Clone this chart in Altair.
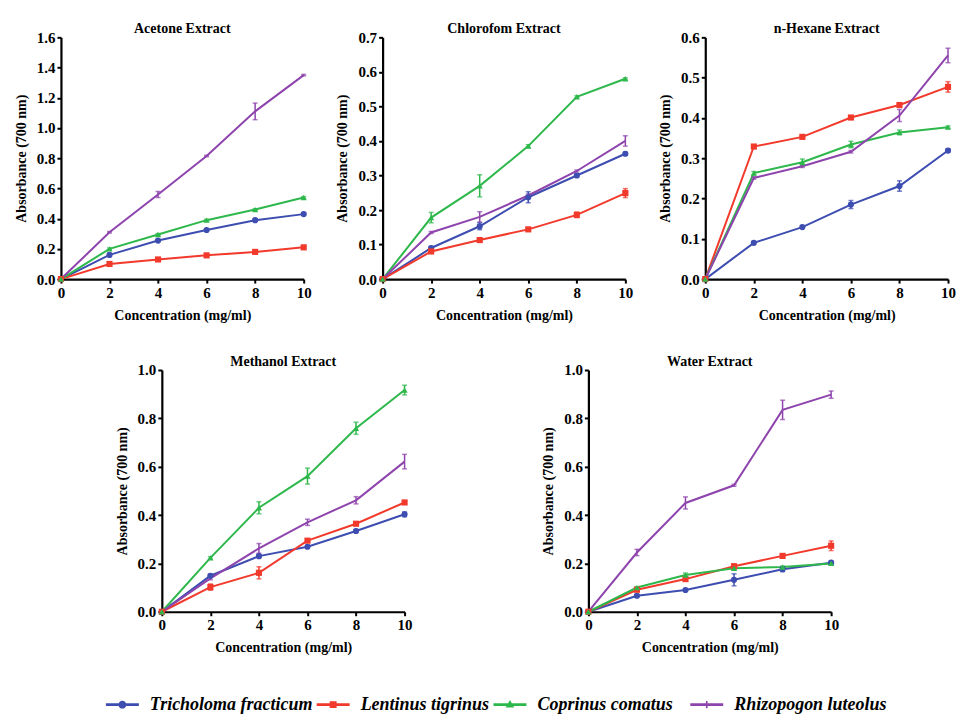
import altair as alt
import pandas as pd

conc = [0, 2, 4, 6, 8, 10]
names = ["Tricholoma fracticum", "Lentinus tigrinus", "Coprinus comatus", "Rhizopogon luteolus"]
colors = ["#3D4DB0", "#F23A2C", "#2EB84C", "#8E44AD"]
markers = ["circle", "square", "triangle-up", None]

# ---- Acetone ----
acetone_tf = [0, 0.16, 0.255, 0.325, 0.39, 0.43]
acetone_lt = [0, 0.10, 0.13, 0.157, 0.18, 0.21]
acetone_cc = [0, 0.20, 0.295, 0.39, 0.46, 0.54]
acetone_rl = [0, 0.31, 0.56, 0.815, 1.11, 1.35]
acetone_tf_err = [0, 0.006, 0.006, 0.006, 0.006, 0.008]
acetone_lt_err = [0, 0.006, 0.006, 0.006, 0.006, 0.008]
acetone_cc_err = [0, 0.006, 0.006, 0.006, 0.006, 0.006]
acetone_rl_err = [0, 0.005, 0.02, 0.005, 0.055, 0.005]

# ---- Chloroform ----
chloro_tf = [0, 0.09, 0.153, 0.237, 0.30, 0.363]
chloro_lt = [0, 0.08, 0.113, 0.144, 0.186, 0.249]
chloro_cc = [0, 0.178, 0.27, 0.385, 0.528, 0.58]
chloro_rl = [0, 0.135, 0.18, 0.242, 0.313, 0.40]
chloro_tf_err = [0, 0.004, 0.01, 0.016, 0.004, 0.004]
chloro_lt_err = [0, 0.003, 0.003, 0.003, 0.008, 0.013]
chloro_cc_err = [0, 0.015, 0.032, 0.004, 0.003, 0.003]
chloro_rl_err = [0, 0.003, 0.015, 0.004, 0.003, 0.015]

# ---- n-Hexane ----
hexane_tf = [0, 0.09, 0.129, 0.185, 0.231, 0.319]
hexane_lt = [0, 0.329, 0.353, 0.401, 0.432, 0.477]
hexane_cc = [0, 0.263, 0.29, 0.334, 0.364, 0.377]
hexane_rl = [0, 0.251, 0.28, 0.316, 0.406, 0.555]
hexane_tf_err = [0, 0.003, 0.003, 0.01, 0.013, 0.004]
hexane_lt_err = [0, 0.004, 0.004, 0.004, 0.005, 0.013]
hexane_cc_err = [0, 0.004, 0.008, 0.008, 0.006, 0.003]
hexane_rl_err = [0, 0.003, 0.003, 0.003, 0.015, 0.018]

# ---- Methanol ----
methanol_tf = [0, 0.149, 0.23, 0.269, 0.334, 0.403]
methanol_lt = [0, 0.102, 0.161, 0.294, 0.364, 0.452]
methanol_cc = [0, 0.223, 0.43, 0.561, 0.759, 0.917]
methanol_rl = [0, 0.138, 0.262, 0.37, 0.461, 0.621]
methanol_tf_err = [0, 0.006, 0.006, 0.006, 0.006, 0.01]
methanol_lt_err = [0, 0.013, 0.025, 0.006, 0.006, 0.006]
methanol_cc_err = [0, 0.005, 0.025, 0.033, 0.025, 0.02]
methanol_rl_err = [0, 0.006, 0.02, 0.013, 0.015, 0.03]

# ---- Water ----
water_tf = [0, 0.066, 0.09, 0.132, 0.176, 0.203]
water_lt = [0, 0.091, 0.135, 0.188, 0.231, 0.273]
water_cc = [0, 0.10, 0.152, 0.18, 0.185, 0.20]
water_rl = [0, 0.245, 0.45, 0.523, 0.835, 0.898]
water_tf_err = [0, 0.005, 0.005, 0.025, 0.01, 0.005]
water_lt_err = [0, 0.005, 0.006, 0.01, 0.008, 0.02]
water_cc_err = [0, 0.004, 0.008, 0.006, 0.004, 0.004]
water_rl_err = [0, 0.013, 0.025, 0.004, 0.04, 0.015]

# Legend symbols: a line segment with the marker on it (unit box -1..1)
seg = "M-1,-0.08H1V0.08H-1Z "
legend_paths = [
    seg + "M0.24,0A0.24,0.24 0 1 1 -0.24,0A0.24,0.24 0 1 1 0.24,0Z",
    seg + "M-0.21,-0.21H0.21V0.21H-0.21Z",
    seg + "M0,-0.28L0.26,0.18H-0.26Z",
    seg + "M-0.05,-0.22H0.05V0.22H-0.05Z",
]
legend_item_widths = [211, 177, 197, 183]

FONT = "Liberation Serif"
W, H = 243, 242


def make_df(series_vals, series_errs):
    rows = []
    for nm, vals, errs in zip(names, series_vals, series_errs):
        for c, v, e in zip(conc, vals, errs):
            rows.append({"conc": c, "series": nm, "value": v, "lo": v - e, "hi": v + e})
    return pd.DataFrame(rows)


color_scale = alt.Scale(domain=names, range=colors)


def panel(title, series_vals, series_errs, ymax, ystep):
    df = make_df(series_vals, series_errs)
    xenc = alt.X("conc:Q", scale=alt.Scale(domain=[0, 10], nice=False),
                 axis=alt.Axis(values=[0, 2, 4, 6, 8, 10], format="d",
                               title="Concentration (mg/ml)"))
    yticks = [round(i * ystep, 2) for i in range(int(round(ymax / ystep)) + 1)]
    yscale = alt.Scale(domain=[0, ymax], nice=False)
    yaxis = alt.Axis(values=yticks, format=".1f", title="Absorbance (700 nm)")
    base = alt.Chart(df)
    lines = base.mark_line(strokeWidth=2).encode(
        x=xenc,
        y=alt.Y("value:Q", scale=yscale, axis=yaxis),
        color=alt.Color("series:N", scale=color_scale, legend=None),
    )
    errs = base.mark_errorbar(ticks=True, thickness=1.5).encode(
        x=xenc,
        y=alt.Y("lo:Q", scale=yscale, axis=yaxis),
        y2="hi:Q",
        color=alt.Color("series:N", scale=color_scale, legend=None),
    )
    layers = [lines, errs]
    for nm, col, mk in zip(names, colors, markers):
        if mk is None:
            continue
        layers.append(
            base.transform_filter(alt.datum.series == nm)
            .mark_point(shape=mk, filled=True, size=38, color=col, opacity=1)
            .encode(x=xenc, y=alt.Y("value:Q", scale=yscale, axis=yaxis))
        )
    return alt.layer(*layers).properties(
        width=W, height=H,
        title=alt.TitleParams(title, font=FONT, fontSize=14, fontWeight="bold",
                              color="black", offset=-6, anchor="middle"),
    )


p1 = panel("Acetone Extract",
           [acetone_tf, acetone_lt, acetone_cc, acetone_rl],
           [acetone_tf_err, acetone_lt_err, acetone_cc_err, acetone_rl_err], 1.6, 0.2)
p2 = panel("Chlorofom Extract",
           [chloro_tf, chloro_lt, chloro_cc, chloro_rl],
           [chloro_tf_err, chloro_lt_err, chloro_cc_err, chloro_rl_err], 0.7, 0.1)
p3 = panel("n-Hexane Extract",
           [hexane_tf, hexane_lt, hexane_cc, hexane_rl],
           [hexane_tf_err, hexane_lt_err, hexane_cc_err, hexane_rl_err], 0.6, 0.1)
p4 = panel("Methanol Extract",
           [methanol_tf, methanol_lt, methanol_cc, methanol_rl],
           [methanol_tf_err, methanol_lt_err, methanol_cc_err, methanol_rl_err], 1.0, 0.2)
p5 = panel("Water Extract",
           [water_tf, water_lt, water_cc, water_rl],
           [water_tf_err, water_lt_err, water_cc_err, water_rl_err], 1.0, 0.2)


def spacer(w, h=10):
    return alt.Chart(pd.DataFrame({"s": [0]})).mark_point(opacity=0).encode(
        x=alt.X("s:Q", axis=None), y=alt.Y("s:Q", axis=None)
    ).properties(width=w, height=h)


# ---- legend row: one item per series (line+marker symbol, italic label) ----
def legend_item(i):
    w = legend_item_widths[i]
    idf = pd.DataFrame({"series": [names[i]]})
    sym = alt.Chart(idf).mark_point(filled=True, size=1089, opacity=1, strokeWidth=0,
                                    xOffset=-w / 2 + 16.5).encode(
        color=alt.Color("series:N", scale=color_scale, legend=None),
        shape=alt.Shape("series:N", scale=alt.Scale(domain=names, range=legend_paths),
                        legend=None),
    )
    txt = alt.Chart(idf).mark_text(align="left", baseline="middle", dx=-w / 2 + 44,
                                   font=FONT, fontSize=18, fontWeight="bold",
                                   fontStyle="italic", color="black").encode(text="series:N")
    return alt.layer(sym, txt).properties(width=w, height=20)


legend_row = alt.hconcat(spacer(45, 20), *[legend_item(i) for i in range(4)], spacing=0)

row1 = alt.hconcat(p1, alt.hconcat(p2, p3, spacing=25), spacing=24)
row2 = alt.hconcat(spacer(46), alt.hconcat(p4, p5, spacing=129), spacing=8)

chart = alt.vconcat(alt.vconcat(row1, row2, spacing=33), legend_row, spacing=40).properties(
    padding={"left": 6, "top": 14, "right": 0, "bottom": 0}
).configure_view(stroke=None).configure_axis(
    grid=False,
    domainColor="black", domainWidth=2.2,
    tickColor="black", tickWidth=2, tickSize=4,
    labelFont=FONT, labelFontSize=15, labelFontWeight="bold", labelColor="black",
    labelPadding=2,
    titleFont=FONT, titleFontSize=14, titleFontWeight="bold", titleColor="black",
    titlePadding=8,
).configure_axisX(labelFlush=False).configure_axisY(labelFlush=False)

chart.save("out.html", embed_options={"renderer": "svg", "actions": False})
